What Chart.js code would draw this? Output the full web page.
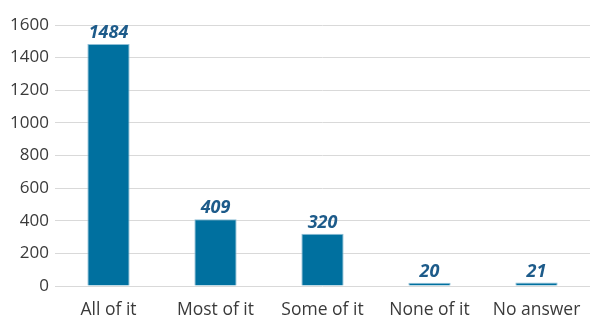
<!DOCTYPE html>
<html><head><meta charset="utf-8">
<script src="https://cdn.jsdelivr.net/npm/chart.js@4/dist/chart.umd.min.js"></script>
<style>html,body{margin:0;padding:0;background:#fff;}#wrap{width:590px;height:316px;}</style>
</head><body><div id="wrap"><canvas id="c" width="590" height="316"></canvas></div>
<script>
const categories = ["All of it", "Most of it", "Some of it", "None of it", "No answer"];
const values = [1484, 409, 320, 20, 21];
const yTicks = [0, 200, 400, 600, 800, 1000, 1200, 1400, 1600];

const labelPlugin = {
  id: 'valLabels',
  afterDatasetsDraw(chart) {
    const ctx = chart.ctx;
    const meta = chart.getDatasetMeta(0);
    ctx.save();
    ctx.font = 'italic bold 18px "Open Sans"';
    ctx.fillStyle = '#1d5b8a';
    ctx.textAlign = 'center';
    ctx.textBaseline = 'alphabetic';
    meta.data.forEach((bar, i) => {
      ctx.fillText(String(values[i]), bar.x, bar.y - 6);
    });
    ctx.restore();
  }
};

new Chart(document.getElementById('c'), {
  type: 'bar',
  data: {
    labels: categories,
    datasets: [{
      data: values,
      backgroundColor: '#00709f',
      borderColor: '#8fbfd6',
      borderWidth: 1,
      categoryPercentage: 1,
      barPercentage: 0.395
    }]
  },
  options: {
    responsive: false,
    animation: false,
    layout: { padding: { top: 25, right: 0, left: 0, bottom: 0 } },
    plugins: { legend: { display: false }, tooltip: { enabled: false } },
    scales: {
      x: {
        grid: { display: false, drawTicks: false },
        border: { display: false },
        ticks: { color: '#3a3a3a', font: { family: 'Open Sans', size: 17.5 }, padding: 14, maxRotation: 0 },
        afterFit(s) { s.height = 30; s.paddingLeft = 0; s.paddingRight = 0; }
      },
      y: {
        min: 0, max: 1600,
        afterBuildTicks(s) { s.ticks = yTicks.map(v => ({ value: v })); },
        grid: { color: '#d9d9d9', drawTicks: false },
        border: { display: false },
        ticks: { color: '#3a3a3a', font: { family: 'Open Sans', size: 17 }, padding: 6, callback: v => String(v) },
        afterFit(s) { s.width = 55; }
      }
    }
  },
  plugins: [labelPlugin]
});
</script></body></html>
